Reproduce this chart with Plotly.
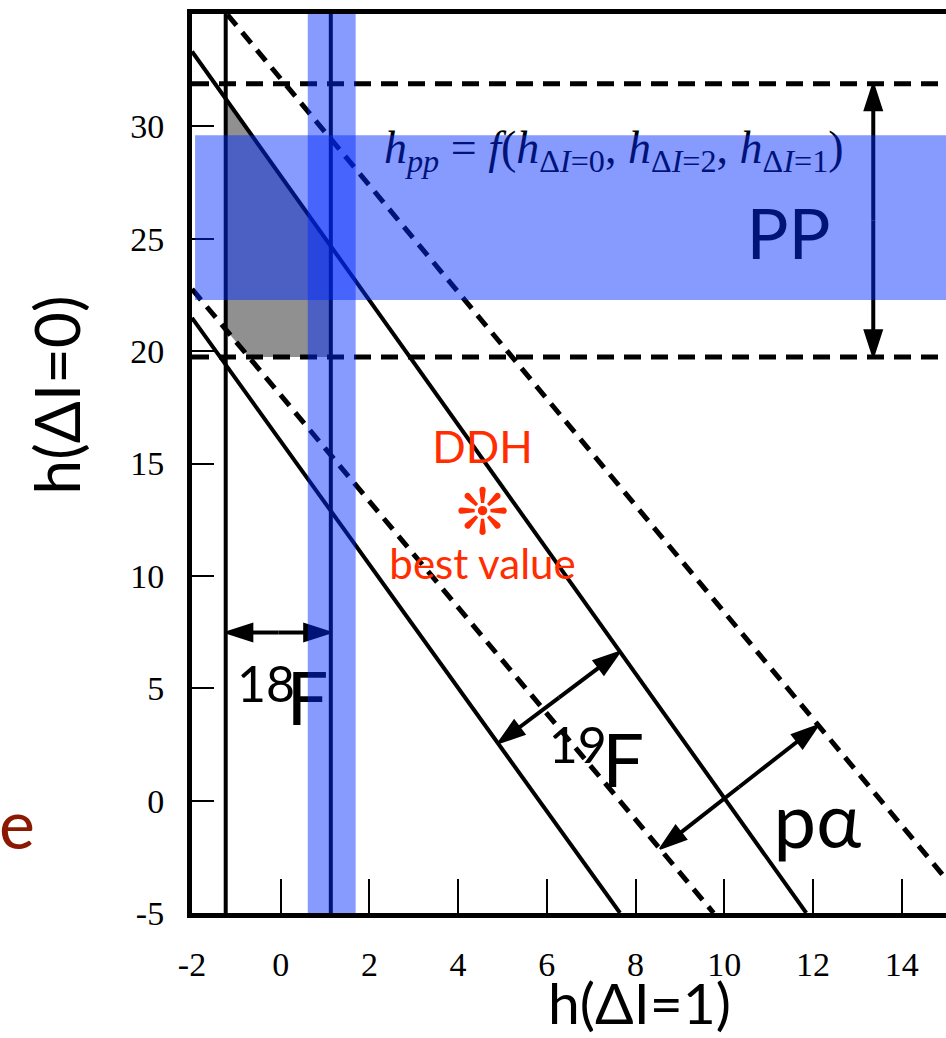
import plotly.graph_objects as go

# ---- axis ticks -------------------------------------------------------
x_ticks = [-2, 0, 2, 4, 6, 8, 10, 12, 14]
x_ticklabels = ["-2", "0", "2", "4", "6", "8", "10", "12", "14"]
y_ticks = [-5, 0, 5, 10, 15, 20, 25, 30]
y_ticklabels = ["-5", "0", "5", "10", "15", "20", "25", "30"]

# ---- constraints ------------------------------------------------------
# 18F: allowed h(ΔI=1) interval, plus measured value with its error band
f18_bounds = [-1.24, 1.13]
f18_band = [0.61, 1.69]

# pp: allowed h(ΔI=0) interval, plus the h_pp band
pp_bounds = [19.74, 31.9]
pp_band = [22.27, 29.6]

# 19F: two solid boundary lines (end points)
f19_lower_x = [-2.0, 7.65]
f19_lower_y = [21.48, -5.0]
f19_upper_x = [-2.0, 11.85]
f19_upper_y = [33.33, -5.0]

# p-alpha: two dashed boundary lines (end points)
pa_lower_x = [-2.0, 9.76]
pa_lower_y = [22.76, -5.0]
pa_upper_x = [-1.2, 15.0]
pa_upper_y = [34.97, -3.48]

# DDH best value
ddh_x = [4.55]
ddh_y = [12.58]

# where the width arrows touch their boundaries
f18_arrow_y = 7.48
f19_arrow_x = [4.90, 7.65]
pa_arrow_x = [8.55, 12.12]
pp_arrow_x = 13.36

X_RANGE = [-2, 15]
Y_RANGE = [-5, 35]


def y_at(xs, ys, x):
    return ys[0] + (ys[1] - ys[0]) * (x - xs[0]) / (xs[1] - xs[0])


def x_at(xs, ys, y):
    return xs[0] + (xs[1] - xs[0]) * (y - ys[0]) / (ys[1] - ys[0])


fig = go.Figure()

# ---- overlap of all constraints (gray region) --------------------------
gx = [
    f18_bounds[0],
    f18_bounds[1],
    f18_bounds[1],
    x_at(pa_lower_x, pa_lower_y, pp_bounds[0]),
    f18_bounds[0],
]
gy = [
    y_at(f19_upper_x, f19_upper_y, f18_bounds[0]),
    y_at(f19_upper_x, f19_upper_y, f18_bounds[1]),
    pp_bounds[0],
    pp_bounds[0],
    y_at(pa_lower_x, pa_lower_y, f18_bounds[0]),
]
fig.add_trace(go.Scatter(x=gx, y=gy, fill="toself", mode="lines",
                         fillcolor="#909090", line=dict(width=0),
                         hoverinfo="skip", showlegend=False))


def line(xs, ys, dash="solid", width=4):
    fig.add_trace(go.Scatter(x=xs, y=ys, mode="lines",
                             line=dict(color="black", width=width, dash=dash),
                             hoverinfo="skip", showlegend=False))


# 18F lower bound and measured value
line([f18_bounds[0], f18_bounds[0]], Y_RANGE)
line([f18_bounds[1], f18_bounds[1]], Y_RANGE)

# pp bounds
line(X_RANGE, [pp_bounds[1], pp_bounds[1]], dash="17px,10px", width=5)
line(X_RANGE, [pp_bounds[0], pp_bounds[0]], dash="17px,10px", width=5)

# 19F and p-alpha boundaries
line(f19_lower_x, f19_lower_y)
line(f19_upper_x, f19_upper_y)
line(pa_lower_x, pa_lower_y, dash="14px,9px", width=5)
line(pa_upper_x, pa_upper_y, dash="14px,9px", width=5)


def double_arrow(x0, y0, x1, y1):
    mx, my = (x0 + x1) / 2, (y0 + y1) / 2
    for ex, ey in ((x0, y0), (x1, y1)):
        fig.add_trace(go.Scatter(
            x=[mx, ex], y=[my, ey], mode="lines+markers",
            line=dict(color="black", width=4),
            marker=dict(symbol="arrow", size=[0, 28], angleref="previous",
                        color="#000000", opacity=1,
                        line=dict(width=2, color="#000000")),
            hoverinfo="skip", showlegend=False))


double_arrow(f18_bounds[0], f18_arrow_y, f18_bounds[1], f18_arrow_y)
double_arrow(f19_arrow_x[0], y_at(f19_lower_x, f19_lower_y, f19_arrow_x[0]),
             f19_arrow_x[1], y_at(f19_upper_x, f19_upper_y, f19_arrow_x[1]))
double_arrow(pa_arrow_x[0], y_at(pa_lower_x, pa_lower_y, pa_arrow_x[0]),
             pa_arrow_x[1], y_at(pa_upper_x, pa_upper_y, pa_arrow_x[1]))
double_arrow(pp_arrow_x, pp_bounds[0], pp_arrow_x, pp_bounds[1])


def label(x, y, text, size, color="black", family="Lato"):
    fig.add_trace(go.Scatter(
        x=[x], y=[y], mode="text", text=[text],
        textposition="middle center",
        textfont=dict(size=size, color=color, family=family),
        hoverinfo="skip", showlegend=False, cliponaxis=False))


RED = "#ff2d00"
label(-0.33, 4.95, "18", 50)
label(0.60, 4.2, "F", 74)
label(6.70, 2.25, "19", 50)
label(7.72, 1.45, "F", 74)
label(12.10, -1.25, "pα", 76)
label(11.45, 24.9, "PP", 70)
label(7.51, 28.9,
      "<i>h</i><sub><i>pp</i></sub> = <i>f</i>(<i>h</i><sub>Δ<i>I</i>=0</sub>, "
      "<i>h</i><sub>Δ<i>I</i>=2</sub>, <i>h</i><sub>Δ<i>I</i>=1</sub>)",
      46, family="Liberation Serif")
label(ddh_x[0], 15.5, "DDH", 44, color=RED)
label(ddh_x[0], 10.35, "best value", 42, color=RED)
fig.add_trace(go.Scatter(
    x=ddh_x, y=ddh_y, mode="text", text=["❊"], textposition="middle center",
    textfont=dict(size=64, color=RED, family="DejaVu Sans"),
    hoverinfo="skip", showlegend=False))

# ---- translucent blue bands over everything ---------------------------
BLUE = "rgba(0,40,252,0.47)"
fig.add_shape(type="rect", xref="x", yref="y", layer="above",
              x0=-1.93, x1=X_RANGE[1], y0=pp_band[0], y1=pp_band[1],
              fillcolor=BLUE, line=dict(width=0))
fig.add_shape(type="rect", xref="x", yref="paper", layer="above",
              x0=f18_band[0], x1=f18_band[1], y0=0, y1=1,
              fillcolor=BLUE, line=dict(width=0))

# ---- axis titles and side text -----------------------------------------
fig.add_annotation(xref="paper", yref="paper", x=0.594, y=-0.099,
                   xanchor="center", yanchor="middle", borderpad=0,
                   text="h(ΔI=1)", showarrow=False,
                   font=dict(size=57, color="black", family="Lato"))
fig.add_annotation(xref="paper", yref="paper", x=-0.180, y=0.576,
                   xanchor="center", yanchor="middle", borderpad=0,
                   text="h(ΔI=0)", showarrow=False, textangle=-90,
                   font=dict(size=62, color="black", family="Lato"))
fig.add_annotation(xref="paper", yref="paper", x=-0.232, y=0.101,
                   xanchor="center", yanchor="middle",
                   text="e", showarrow=False,
                   font=dict(size=68, color="#8b1800", family="Lato"))

tickfont = dict(family="Liberation Serif", size=34, color="black")
fig.update_xaxes(range=X_RANGE, tickvals=x_ticks, ticktext=x_ticklabels,
                 ticks="inside", ticklen=34, tickwidth=2, tickcolor="black",
                 showline=True, linewidth=5, linecolor="black", mirror=True,
                 showgrid=False, zeroline=False, tickfont=tickfont,
                 ticklabelstandoff=17)
fig.update_yaxes(range=Y_RANGE, tickvals=y_ticks, ticktext=y_ticklabels,
                 ticks="inside", ticklen=22, tickwidth=2, tickcolor="black",
                 showline=True, linewidth=5, linecolor="black",
                 showgrid=False, zeroline=False, tickfont=tickfont,
                 ticklabelstandoff=16)

fig.update_layout(width=946, height=1038, autosize=False,
                  margin=dict(l=192, r=0, t=14, b=125, pad=0),
                  plot_bgcolor="white", paper_bgcolor="white",
                  showlegend=False)

fig.write_html("out.html")
